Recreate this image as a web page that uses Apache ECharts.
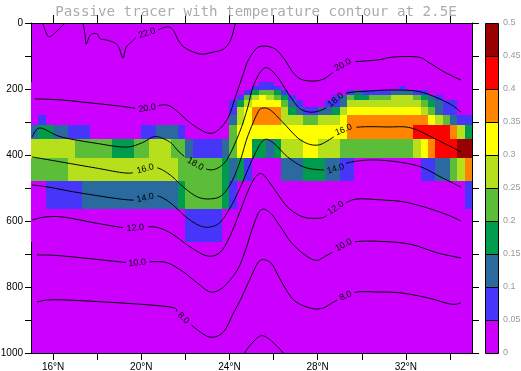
<!DOCTYPE html>
<html><head><meta charset="utf-8">
<script src="https://cdn.jsdelivr.net/npm/echarts@6/dist/echarts.min.js"></script>
<style>html,body{margin:0;padding:0;background:#fff}#c{width:521px;height:371px}</style>
</head><body><div id="c"></div>
<script>
// ===================== DATA =====================
const titleText = 'Passive tracer with temperature contour at 2.5E';

// tracer grid: 60 columns of 1/3 degree from 15N, model depth levels (edges, m)
const latStart = 15;
const latStep = 1 / 3;
const depthEdges = [178, 191, 203, 218, 234, 254, 278, 309, 352, 408, 479, 564, 664];

// tracer concentration, one array per depth level (60 latitude columns each)
const tracer_r0 = [0,0,0,0,0,0,0,0,0,0, 0,0,0,0,0,0,0,0,0,0, 0,0,0,0,0,0,0,0,0,0, 0,.07,.07,0,0,0,0,0,0,0, 0,0,0,0,0,0,0,0,0,0, 0,0,0,0,0,0,0,0,0,0];
const tracer_r1 = [0,0,0,0,0,0,0,0,0,0, 0,0,0,0,0,0,0,0,0,0, 0,0,0,0,0,0,0,0,0,0, .07,.07,.07,.07,0,0,0,0,0,0, 0,0,0,0,0,0,0,0,0,0, .07,0,0,0,0,0,0,0,0,0];
const tracer_r2 = [0,0,0,0,0,0,0,0,0,0, 0,0,0,0,0,0,0,0,0,0, 0,0,0,0,0,0,0,0,0,.07, .17,.22,.22,.17,.07,0,0,0,0,0, 0,0,0,.07,.12,.07,.07,.07,.07,.12, .12,.12,.07,.07,0,0,0,0,0,0];
const tracer_r3 = [0,0,0,0,0,0,0,0,0,0, 0,0,0,0,0,0,0,0,0,0, 0,0,0,0,0,0,0,0,.07,.22, .27,.32,.27,.22,.17,.07,0,0,0,0, 0,.07,.12,.22,.17,.17,.22,.22,.22,.27, .27,.27,.22,.17,.12,.07,0,0,0,0];
const tracer_r4 = [0,0,0,0,0,0,0,0,0,0, 0,0,0,0,0,0,0,0,0,0, 0,0,0,0,0,0,0,.07,.17,.27, .32,.32,.32,.32,.22,.12,.07,0,0,0, .07,.07,.12,.27,.27,.27,.27,.27,.27,.27, .27,.27,.27,.22,.17,.12,.07,.07,0,0];
const tracer_r5 = [0,0,0,0,0,0,0,0,0,0, 0,0,0,0,0,0,0,0,0,0, 0,0,0,0,0,0,0,.07,.27,.32, .37,.37,.37,.37,.27,.17,.12,.07,.07,.12, .12,.17,.27,.32,.32,.32,.32,.32,.32,.32, .32,.32,.32,.27,.22,.12,.07,.07,0,0];
const tracer_r6 = [0,.07,0,0,0,0,0,0,0,0, 0,0,0,0,0,0,0,0,0,0, 0,0,0,0,0,0,0,.12,.27,.32, .37,.37,.37,.37,.27,.27,.27,.22,.22,.27, .27,.27,.32,.37,.37,.37,.37,.37,.37,.37, .37,.37,.37,.37,.32,.27,.22,.12,.07,.07];
const tracer_r7 = [.12,.17,.17,.12,.12,.07,.07,.07,0,0, 0,0,0,0,0,.07,.07,.12,.12,.12, .07,0,0,0,0,0,0,.22,.32,.32, .32,.32,.32,.32,.32,.32,.32,.32,.32,.32, .32,.32,.32,.37,.37,.37,.37,.37,.37,.37, .37,.37,.42,.42,.42,.42,.42,.37,.27,.17];
const tracer_r8 = [.27,.27,.27,.27,.27,.27,.22,.22,.22,.22, .22,.17,.17,.17,.22,.22,.27,.27,.27,.22, .22,.12,.07,.07,.07,.07,.12,.22,.32,.32, .17,.17,.12,.17,.27,.27,.27,.32,.32,.27, .27,.27,.22,.22,.22,.22,.22,.22,.22,.22, .22,.22,.27,.32,.37,.42,.42,.42,.47,.47];
const tracer_r9 = [.22,.22,.22,.22,.22,.27,.27,.27,.27,.27, .27,.27,.27,.27,.27,.27,.27,.27,.27,.27, .22,.22,.22,.22,.22,.22,.17,.12,.17,.07, 0,0,0,0,.12,.12,.12,.17,.17,.17, .12,.12,.07,.07,0,0,0,0,0,0, 0,0,0,.07,.07,.12,.12,.22,.27,.37];
const tracer_r10 = [0,0,.07,.07,.07,.07,.07,.12,.12,.12, .12,.12,.12,.12,.12,.12,.12,.12,.12,.12, .17,.22,.22,.22,.22,.22,.17,.07,0,0, 0,0,0,0,0,0,0,0,0,0, 0,0,0,0,0,0,0,0,0,0, 0,0,0,0,0,0,0,0,0,.07];
const tracer_r11 = [0,0,0,0,0,0,0,0,0,0, 0,0,0,0,0,0,0,0,0,0, 0,.07,.07,.07,.07,.07,0,0,0,0, 0,0,0,0,0,0,0,0,0,0, 0,0,0,0,0,0,0,0,0,0, 0,0,0,0,0,0,0,0,0,0];
const tracerRows = [tracer_r0, tracer_r1, tracer_r2, tracer_r3, tracer_r4, tracer_r5, tracer_r6, tracer_r7, tracer_r8, tracer_r9, tracer_r10, tracer_r11];

// colour levels of the tracer
const levels = [0, 0.05, 0.1, 0.15, 0.2, 0.25, 0.3, 0.35, 0.4, 0.45, 0.5];
const levelColors = ['#cc00ff', '#4536fa', '#2a6a9e', '#009c4e', '#5cbd38', '#b6e01c', '#ffff00', '#ff8400', '#ff0000', '#990000'];

// axis ticks / labels
const xTickValues = [16, 18, 20, 22, 24, 26, 28, 30, 32, 34];
const xLabelValues = [16, 20, 24, 28, 32];
const yTickValues = [0, 100, 200, 300, 400, 500, 600, 700, 800, 900, 1000];
const yLabelValues = [0, 200, 400, 600, 800, 1000];

// temperature contours: [latitude (deg N), depth (m)]
const contour22a = [[15.53,0],[15.64,21],[15.82,42],[16.18,24],[16.55,0]];
const contour22b = [[17.36,0],[17.45,36],[17.5,64],[17.64,42],[17.77,33],[18.0,33],[18.14,48],[18.45,52],[18.82,61],[19.0,76],[19.17,106],[19.32,73],[19.55,58],[19.82,42],[20.26,31],[20.73,21],[21.18,12],[21.45,21],[21.68,52],[22.0,76],[22.68,94],[23.27,88],[23.73,79],[24.05,52],[24.27,0]];
const contour20 = [[15.18,230],[16.32,233],[17.68,242],[19.05,252],[19.73,258],[20.27,258],[21.0,248],[21.45,258],[22.23,303],[23.0,333],[23.5,324],[23.95,285],[24.27,224],[24.64,152],[24.86,112],[25.32,73],[26.0,76],[26.45,106],[26.91,152],[27.36,173],[28.14,173],[28.73,148],[29.14,127],[29.64,118],[30.73,112],[31.45,103],[32.55,103],[33.0,118],[33.73,148],[34.5,173]];
const contour18 = [[15.05,345],[15.41,318],[16.36,345],[17.91,364],[19.27,376],[20.0,364],[20.55,345],[20.91,348],[21.36,364],[21.77,394],[22.45,427],[23.14,445],[23.68,430],[24.05,394],[24.5,324],[24.82,258],[25.05,197],[25.41,148],[25.73,136],[26.18,164],[26.77,224],[27.23,261],[27.82,270],[28.45,255],[28.82,233],[29.36,212],[30.41,206],[31.45,203],[32.68,209],[33.91,242],[34.5,270]];
const contour16 = [[15.05,406],[15.32,409],[16.36,421],[17.91,439],[19.41,455],[20.18,442],[20.73,439],[21.32,461],[21.91,497],[22.55,527],[23.14,533],[23.68,521],[24.14,476],[24.5,415],[24.82,345],[25.27,273],[25.5,258],[25.86,264],[26.45,303],[27.23,355],[28.0,370],[28.73,345],[29.18,324],[29.95,315],[31.18,315],[32.23,318],[33.45,355],[34.5,391]];
const contour14 = [[15.05,491],[15.77,497],[17.23,515],[19.41,536],[20.18,530],[20.73,524],[21.32,545],[22.09,591],[22.68,615],[23.14,618],[23.59,603],[24.05,558],[24.5,497],[25.09,406],[25.55,355],[26.0,364],[26.64,406],[27.36,436],[28.14,445],[28.82,442],[29.36,424],[30.41,415],[31.64,421],[32.68,436],[33.59,467],[34.5,497]];
const contour12 = [[15.05,597],[15.64,588],[16.45,588],[17.91,606],[19.27,621],[19.73,621],[20.59,618],[21.32,636],[22.23,679],[23.0,706],[23.59,694],[24.05,642],[24.5,567],[24.86,506],[25.18,467],[25.5,458],[26.0,500],[26.64,558],[27.36,588],[28.14,591],[28.5,579],[28.82,561],[29.36,542],[29.86,533],[30.86,536],[31.91,542],[33.0,561],[33.91,582],[34.5,600]];
const contour10 = [[15.27,703],[16.45,706],[19.5,727],[19.82,727],[21.0,724],[21.77,748],[22.55,788],[23.14,815],[23.73,800],[24.36,748],[24.73,688],[25.05,621],[25.41,567],[25.86,576],[26.32,618],[26.91,673],[27.82,718],[28.45,703],[29.18,673],[29.59,664],[30.27,661],[31.45,664],[32.36,673],[33.45,697],[34.5,712]];
const contour8 = [[15.27,845],[16.45,839],[21.0,858],[21.64,876],[21.91,894],[22.55,930],[23.14,952],[23.73,936],[24.18,879],[24.5,839],[24.95,773],[25.32,724],[25.64,718],[25.95,733],[26.32,779],[26.91,839],[27.68,864],[28.23,864],[28.73,845],[29.27,827],[29.82,815],[30.73,815],[31.77,818],[33.0,833],[34.05,852],[34.5,848]];
const contour6 = [[24.68,1000],[24.95,976],[25.41,948],[25.86,961],[26.45,1000]];
const contours = [contour22a, contour22b, contour20, contour18, contour16, contour14, contour12, contour10, contour8, contour6];

// contour labels: [contour index, latitude, depth, text]
const contourLabels = [
  [1, 20.26, 31, '22.0'],
  [2, 20.27, 258, '20.0'], [2, 29.14, 127, '20.0'],
  [3, 22.45, 427, '18.0'], [3, 28.82, 233, '18.0'],
  [4, 20.18, 442, '16.0'], [4, 29.18, 324, '16.0'],
  [5, 20.18, 530, '14.0'], [5, 28.82, 442, '14.0'],
  [6, 19.73, 621, '12.0'], [6, 28.82, 561, '12.0'],
  [7, 19.82, 727, '10.0'], [7, 29.18, 673, '10.0'],
  [8, 21.91, 894, '8.0'], [8, 29.27, 827, '8.0']
];

// ===================== CHART =====================
function colorOf(v) {
  for (let i = 0; i < levelColors.length; i++) {
    if (v < levels[i + 1]) return levelColors[i];
  }
  return levelColors[levelColors.length - 1];
}

const cellData = [];
tracerRows.forEach((row, r) => {
  row.forEach((v, k) => {
    const latC = latStart + (k + 0.5) * latStep;
    const depC = (depthEdges[r] + depthEdges[r + 1]) / 2;
    cellData.push([latC, depC, v, k, r]);
  });
});

function renderCell(params, api) {
  const k = api.value(3), r = api.value(4), v = api.value(2);
  const lat0 = latStart + k * latStep, lat1 = latStart + (k + 1) * latStep;
  const p0 = api.coord([lat0, depthEdges[r]]);
  const p1 = api.coord([lat1, depthEdges[r + 1]]);
  const x0 = Math.round(Math.min(p0[0], p1[0])), x1 = Math.round(Math.max(p0[0], p1[0]));
  const y0 = Math.round(Math.min(p0[1], p1[1])), y1 = Math.round(Math.max(p0[1], p1[1]));
  return { type: 'rect', shape: { x: x0, y: y0, width: x1 - x0, height: y1 - y0 }, style: { fill: colorOf(v) } };
}

function spline(pts) {
  const out = [];
  const n = 10;
  for (let i = 0; i < pts.length - 1; i++) {
    const p0 = pts[i - 1] || pts[i], p1 = pts[i], p2 = pts[i + 1], p3 = pts[i + 2] || pts[i + 1];
    for (let s = 0; s < n; s++) {
      const t = s / n, t2 = t * t, t3 = t2 * t;
      const f = (a, b, c, d) => 0.5 * (2 * b + (-a + c) * t + (2 * a - 5 * b + 4 * c - d) * t2 + (-a + 3 * b - 3 * c + d) * t3);
      out.push([f(p0[0], p1[0], p2[0], p3[0]), f(p0[1], p1[1], p2[1], p3[1])]);
    }
  }
  out.push(pts[pts.length - 1]);
  return out;
}

function renderContour(params, api) {
  const ci = api.value(2);
  const pts = contours[ci].map(p => api.coord(p));
  const samples = spline(pts);
  const labs = contourLabels.filter(l => l[0] === ci).map(l => {
    const c = api.coord([l[1], l[2]]);
    let best = 0, bd = 1e9;
    samples.forEach((s, i) => { const d = (s[0] - c[0]) ** 2 + (s[1] - c[1]) ** 2; if (d < bd) { bd = d; best = i; } });
    const a = samples[Math.max(0, best - 4)], b = samples[Math.min(samples.length - 1, best + 4)];
    let ang = Math.atan2(b[1] - a[1], b[0] - a[0]);
    if (ang > Math.PI / 2) ang -= Math.PI;
    if (ang < -Math.PI / 2) ang += Math.PI;
    return { x: samples[best][0], y: samples[best][1], ang, text: l[3], R: l[3].length * 2.5 + 1.5 };
  });
  const children = [];
  let run = [];
  const flush = () => { if (run.length > 1) children.push({ type: 'polyline', shape: { points: run }, style: { stroke: '#000', lineWidth: 1, fill: null } }); run = []; };
  samples.forEach(s => {
    const inside = labs.some(l => Math.hypot(s[0] - l.x, s[1] - l.y) < l.R);
    if (inside) flush(); else run.push(s);
  });
  flush();
  labs.forEach(l => {
    children.push({
      type: 'text', x: l.x, y: l.y, rotation: -l.ang,
      style: { text: l.text, x: 0, y: 0, fill: '#000', fontSize: 9, fontFamily: 'Liberation Sans, Arial, sans-serif', align: 'center', verticalAlign: 'middle', textAlign: 'center', textVerticalAlign: 'middle' }
    });
  });
  return { type: 'group', children };
}

function renderBar(params, api) {
  const i = api.value(2);
  const p0 = api.coord([0, levels[i]]);
  const p1 = api.coord([1, levels[i + 1]]);
  const x0 = Math.round(p0[0]) + 0.5, x1 = Math.round(p1[0]) - 0.5;
  const yTop = Math.round(Math.min(p0[1], p1[1])) + 0.5, yBot = Math.round(Math.max(p0[1], p1[1])) + 0.5;
  return { type: 'rect', shape: { x: x0, y: yTop, width: x1 - x0, height: yBot - yTop }, style: { fill: levelColors[i], stroke: '#000', lineWidth: 1 } };
}

const axisFont = { color: '#000', fontSize: 10, fontFamily: 'Liberation Sans, Arial, sans-serif' };
const blackLine = { show: true, onZero: false, lineStyle: { color: '#000', width: 1 } };

const chart = echarts.init(document.getElementById('c'), null, { renderer: 'canvas' });
chart.setOption({
  animation: false,
  backgroundColor: '#fff',
  title: {
    text: titleText, left: 251, top: 0, textAlign: 'center',
    textStyle: { fontFamily: 'DejaVu Sans Mono', fontWeight: 'normal', fontSize: 14.2, color: '#acacac' }
  },
  grid: [
    { left: 31, top: 23, width: 441, height: 330, show: true, backgroundColor: levelColors[0], borderWidth: 0, containLabel: false, outerBoundsMode: 'none' },
    { left: 485, top: 23, width: 14, height: 330, containLabel: false, outerBoundsMode: 'none' }
  ],
  xAxis: [
    { gridIndex: 0, type: 'value', min: 15, max: 35, position: 'bottom', axisLine: blackLine,
      axisTick: { show: true, customValues: xTickValues, length: 7, lineStyle: { color: '#000' } },
      axisLabel: Object.assign({ customValues: xLabelValues, margin: 9, formatter: v => v + '°N' }, axisFont),
      splitLine: { show: false } },
    { gridIndex: 0, type: 'value', min: 15, max: 35, position: 'top', axisLine: blackLine,
      axisTick: { show: true, customValues: xTickValues, length: 8, lineStyle: { color: '#000' } },
      axisLabel: { show: false }, splitLine: { show: false } },
    { gridIndex: 1, type: 'value', min: 0, max: 1, show: false }
  ],
  yAxis: [
    { gridIndex: 0, type: 'value', inverse: true, min: 0, max: 1000, interval: 100, position: 'left', axisLine: blackLine,
      axisTick: { show: true, customValues: yTickValues, length: 6, lineStyle: { color: '#000' } },
      axisLabel: Object.assign({ customValues: yLabelValues, margin: 8, formatter: v => String(v) }, axisFont),
      splitLine: { show: false } },
    { gridIndex: 0, type: 'value', inverse: true, min: 0, max: 1000, interval: 100, position: 'right', axisLine: blackLine,
      axisTick: { show: true, customValues: yTickValues, length: 7, lineStyle: { color: '#000' } },
      axisLabel: { show: false }, splitLine: { show: false } },
    { gridIndex: 1, type: 'value', min: 0, max: 0.5, interval: 0.05, position: 'right',
      axisLine: { show: false }, axisTick: { show: false }, splitLine: { show: false },
      axisLabel: { margin: 4, color: '#9a9a9a', fontSize: 9, fontFamily: 'Liberation Sans, Arial, sans-serif', formatter: v => String(+v.toFixed(2)) } }
  ],
  series: [
    { type: 'custom', xAxisIndex: 0, yAxisIndex: 0, renderItem: renderCell, data: cellData, clip: true, silent: true },
    { type: 'custom', xAxisIndex: 0, yAxisIndex: 0, renderItem: renderContour, clip: true, silent: true,
      data: contours.map((c, i) => [c[0][0], c[0][1], i]) },
    { type: 'custom', xAxisIndex: 2, yAxisIndex: 2, renderItem: renderBar, silent: true,
      data: levelColors.map((c, i) => [0.5, (levels[i] + levels[i + 1]) / 2, i]) }
  ]
});
</script></body></html>
